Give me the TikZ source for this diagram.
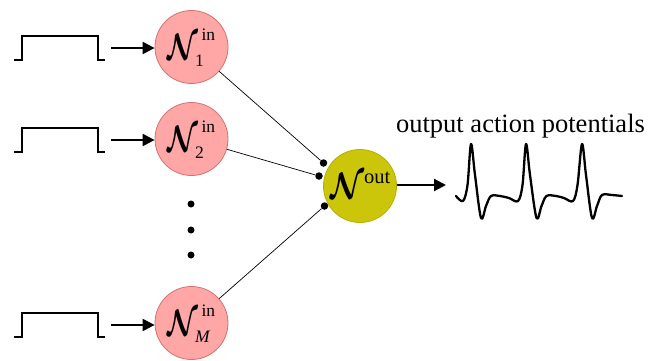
\documentclass[tikz,border=0pt]{standalone}
\usepackage{fontspec}
\usepackage{graphicx}
\setmainfont{Liberation Serif}
\DeclareFontShape{OMS}{cmsy}{m}{n}{<->cmsy10}{}
\DeclareFontShape{OMS}{cmsy}{b}{n}{<->cmbsy10}{}
\usetikzlibrary{arrows.meta}
\definecolor{inpink}{HTML}{FFA6A6}
\definecolor{inborder}{HTML}{D77070}
\definecolor{outolive}{HTML}{CCC60A}
\definecolor{outborder}{HTML}{B5AF00}
\newcommand{\Nfnt}{\fontsize{37}{37}\selectfont}
\newcommand{\Sfnt}{\fontsize{17.5}{17.5}\selectfont}
\newcommand{\Ofnt}{\fontsize{20.5}{20.5}\selectfont}
\newcommand{\placeat}[3]{\makebox[0pt][l]{\smash{\hspace*{#1}\raisebox{#2}{#3}}}}
\newcommand{\inlab}[1]{%
  \placeat{-24.5pt}{-12pt}{\scalebox{0.76}[1]{\Nfnt\boldmath$\mathcal{N}$}}%
  \placeat{10pt}{7pt}{\Sfnt in}%
  \placeat{3.5pt}{-19.5pt}{\Sfnt #1}}
\newcommand{\outlab}{%
  \placeat{-30pt}{-12pt}{\scalebox{0.84}[1]{\Nfnt\boldmath$\mathcal{N}$}}%
  \placeat{4pt}{2.5pt}{\Ofnt out}}
\begin{document}
\begin{tikzpicture}[x=1pt,y=-1pt,
  inneuron/.style={circle,draw=inborder,fill=inpink,line width=0.8pt,minimum size=73pt,inner sep=0pt},
  outneuron/.style={circle,draw=outborder,fill=outolive,line width=0.8pt,minimum size=73pt,inner sep=0pt},
  pulse/.style={line width=2pt,line join=miter},
  arr/.style={line width=2.2pt,-{Triangle[length=12pt,width=12pt]}},
  syn/.style={line width=0.7pt},
  syndot/.style={circle,fill=black,inner sep=0pt,minimum size=7.5pt},
  vdot/.style={circle,fill=black,inner sep=0pt,minimum size=7pt},
  wave/.style={line width=2.3pt,line join=round,line cap=round}]
\useasboundingbox (0,0) rectangle (658,360);

% input neurons
\node[inneuron] (n1) at (191.5,47) {\inlab{1}};
\node[inneuron] (n2) at (191.5,139) {\inlab{2}};
\node[inneuron] (nm) at (191.5,323) {\inlab{\textit{M}}};

% vertical ellipsis
\node[vdot] (v1) at (191,204) {};
\node[vdot] (v2) at (191,230) {};
\node[vdot] (v3) at (191,255) {};

% output neuron
\node[outneuron] (no) at (360,186) {\outlab};

% synapse dots
\node[syndot] (d1) at (323.5,163) {};
\node[syndot] (d2) at (319,176) {};
\node[syndot] (d3) at (324.5,206) {};
\draw[syn] (n1) -- (d1);
\draw[syn] (n2) -- (d2);
\draw[syn] (nm) -- (d3);

% input pulses and arrows
\foreach \nm/\t/\b/\yc in {n1/36/60/48, n2/128/152/140, nm/313/337/325}{
  \draw[pulse] (14,\b) -- (22,\b) -- (22,\t) -- (98,\t) -- (98,\b) -- (105,\b);
  \coordinate (s\nm) at (111,\yc);
  \draw[arr] (s\nm) -- (\nm.west |- s\nm);
}

% output arrow
\coordinate (oe) at (446,185);
\draw[arr] (no.east |- oe) -- (oe);

% caption
\node[font=\fontsize{26.5}{26.5}\selectfont,inner sep=0pt,anchor=base] (cap) at (520.5,132) {output action potentials};

% action potentials
\draw[wave] plot[smooth,tension=0.55] coordinates {
 (456,196) (463,201) (467.5,185) (471,144) (475,175) (481,218) (486,206) (491,196)
 (500,196) (509,198) (518,201)
 (522.5,185) (526,144) (530,175) (536.5,218) (541.5,206) (546.5,196)
 (556,196) (564,198) (573,201)
 (577.5,185) (582,144) (586,175) (592,218) (597,206) (602,195) (612,195) (622,196)};
\end{tikzpicture}
\end{document}
